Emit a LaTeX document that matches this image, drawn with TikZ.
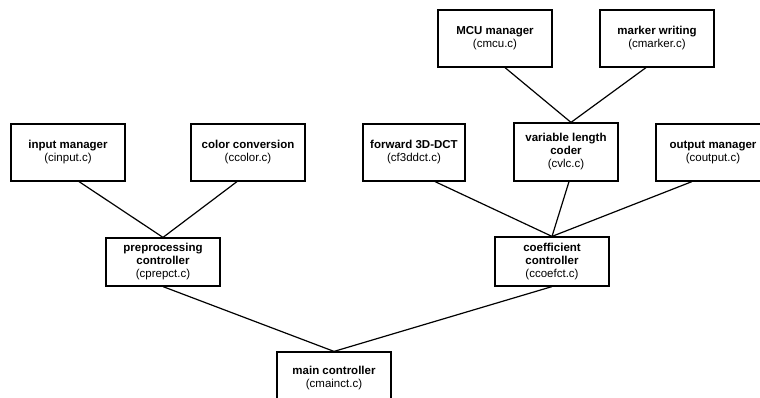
\documentclass[tikz,border=0pt]{standalone}
\usepackage{fontspec}
\setmainfont{Liberation Sans}
\begin{document}
\begin{tikzpicture}[x=1pt,y=-1pt,
  box/.style={draw=black, fill=white, line width=1.2pt, rectangle, align=center,
    inner sep=0pt, minimum width=114pt, font=\fontsize{11.5}{13}\selectfont},
  link/.style={draw=black, line width=1.2pt}]
\useasboundingbox (0,0) rectangle (760,398);
\clip (0,0) rectangle (760,398);
% nodes
\node[box, minimum height=57pt] (input) at (68,152.5) {\textbf{input manager}\\(cinput.c)};
\node[box, minimum height=57pt] (color) at (248,152.5) {\textbf{color conversion}\\(ccolor.c)};
\node[box, minimum height=57pt] (mcu) at (495,38.5) {\textbf{MCU manager}\\(cmcu.c)};
\node[box, minimum height=57pt] (marker) at (657,38.5) {\textbf{marker writing}\\(cmarker.c)};
\node[box, minimum height=57pt, minimum width=102pt] (fdct) at (414,152.5) {\textbf{forward 3D-DCT}\\(cf3ddct.c)};
\node[box, minimum height=58pt, minimum width=104pt] (vlc) at (566,152) {\textbf{variable length}\\\textbf{coder}\\(cvlc.c)};
\node[box, minimum height=57pt] (output) at (713,152.5) {\textbf{output manager}\\(coutput.c)};
\node[box, minimum height=48pt] (pre) at (163,262) {\textbf{preprocessing}\\\textbf{controller}\\(cprepct.c)};
\node[box, minimum height=49pt] (coef) at (552,261.5) {\textbf{coefficient}\\\textbf{controller}\\(ccoefct.c)};
\node[box, minimum height=52pt] (main) at (334,378) {\textbf{main controller}\\(cmainct.c)};
% connectors
\draw[link] (main.north) -- (pre.south);
\draw[link] (main.north) -- (coef.south);
\draw[link] (pre.north) -- ([xshift=11pt]input.south);
\draw[link] (pre.north) -- ([xshift=-11pt]color.south);
\draw[link] (coef.north) -- ([xshift=21pt]fdct.south);
\draw[link] (coef.north) -- ([xshift=3pt]vlc.south);
\draw[link] (coef.north) -- ([xshift=-21pt]output.south);
\draw[link] ([xshift=5pt]vlc.north) -- ([xshift=10pt]mcu.south);
\draw[link] ([xshift=5pt]vlc.north) -- ([xshift=-11pt]marker.south);
\end{tikzpicture}
\end{document}
